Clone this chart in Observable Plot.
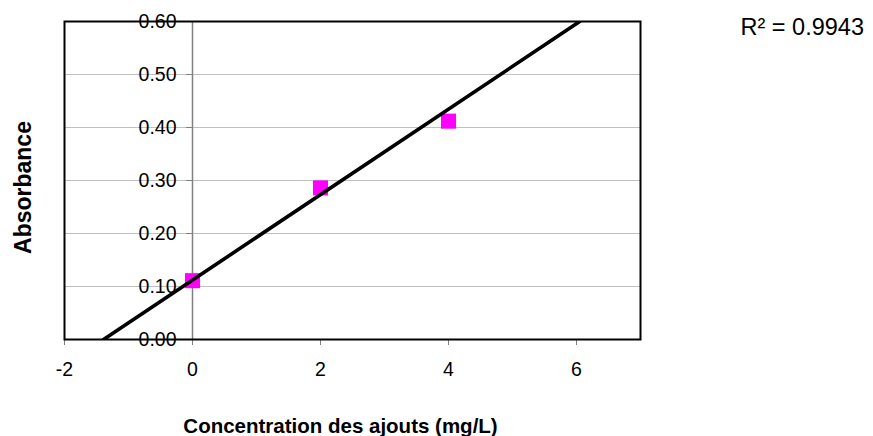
<!DOCTYPE html>
<html>
<head>
<meta charset="utf-8">
<script src="https://cdn.jsdelivr.net/npm/d3@7"></script>
<script src="https://cdn.jsdelivr.net/npm/@observablehq/plot@0.6"></script>
<style>
  html, body { margin: 0; padding: 0; background: #fff; }
</style>
</head>
<body>
<div id="chart"></div>
<script>
// Data
const concentrations = [0, 2, 4];
const absorbances = [0.111, 0.286, 0.412];
// Trendline endpoints (as drawn, clipped to the plot area)
const trendX = [-1.39, 6.05];
const trendY = [0, 0.60];
const xTicks = [-2, 0, 2, 4, 6];
const yTicks = [0, 0.1, 0.2, 0.3, 0.4, 0.5, 0.6];
const gridY = [0.1, 0.2, 0.3, 0.4, 0.5];
const xDomain = [-2, 7];
const yDomain = [0, 0.6];
const xTitle = "Concentration des ajouts (mg/L)";
const yTitle = "Absorbance";
const r2Label = "R² = 0.9943";

const points = concentrations.map((c, i) => ({c, a: absorbances[i]}));
const trend = trendX.map((x, i) => ({x, y: trendY[i]}));

const W = 873, H = 436;
const mL = 64, mR = 233, mT = 21, mB = 97;
const frameW = W - mL - mR;
const zeroOffset = frameW * (0 - xDomain[0]) / (xDomain[1] - xDomain[0]);

const chart = Plot.plot({
  width: W,
  height: H,
  marginLeft: mL,
  marginRight: mR,
  marginTop: mT,
  marginBottom: mB,
  style: {fontFamily: "'Liberation Sans', Arial, sans-serif", fontSize: "19px", color: "black", background: "white"},
  x: {domain: xDomain},
  y: {domain: yDomain},
  marks: [
    Plot.ruleY(gridY, {stroke: "#c0c0c0", strokeWidth: 1}),
    Plot.ruleX([0], {stroke: "#808080", strokeWidth: 1.5}),
    Plot.axisX({ticks: xTicks, tickFormat: d => String(d), tickSize: 6, tickPadding: 17, stroke: "#808080", fill: "black", label: null, fontSize: 19.5}),
    Plot.axisY({ticks: yTicks, tickFormat: d3.format(".2f"), tickSize: 6, tickPadding: 10, dx: zeroOffset, stroke: "#808080", fill: "black", label: null, fontSize: 19.5}),
    Plot.dot(points, {x: "c", y: "a", symbol: "square", r: 8.5, fill: "#ff00ff", stroke: null}),
    Plot.line(trend, {x: "x", y: "y", stroke: "black", strokeWidth: 3.6, clip: true}),
    Plot.frame({stroke: "black", strokeWidth: 2}),
    Plot.text([xTitle], {frameAnchor: "bottom", dx: -12, dy: 93, lineAnchor: "bottom", fontWeight: "bold", fontSize: 20.5}),
    Plot.text([yTitle], {frameAnchor: "left", textAnchor: "middle", lineAnchor: "middle", dx: -41, dy: 7, rotate: -90, fontWeight: "bold", fontSize: 23}),
    Plot.text([r2Label], {frameAnchor: "top-right", textAnchor: "start", dx: 100, dy: -3, lineAnchor: "top", fontSize: 23.5})
  ]
});

document.getElementById("chart").appendChild(chart);
</script>
</body>
</html>
